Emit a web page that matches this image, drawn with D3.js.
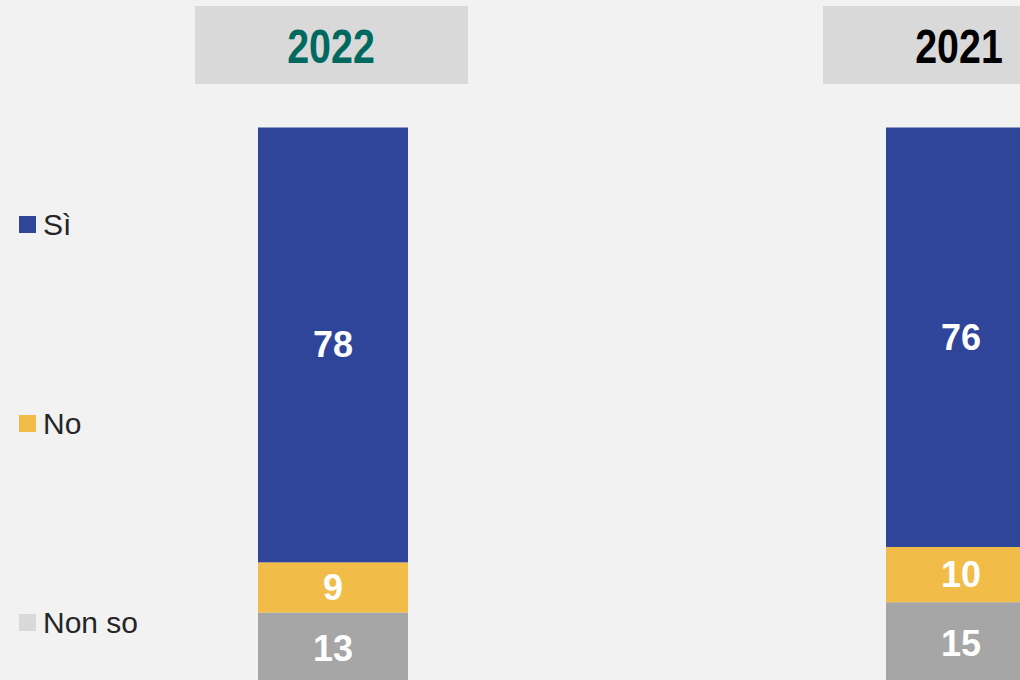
<!DOCTYPE html>
<html>
<head>
<meta charset="utf-8">
<script src="https://cdn.jsdelivr.net/npm/d3@7"></script>
<style>
  html, body { margin: 0; padding: 0; background: #f2f2f2; overflow: hidden; }
  svg { display: block; }
</style>
</head>
<body>
<div id="chart"></div>
<script>
// data
const years = ["2022", "2021"];
const answers = ["Sì", "No", "Non so"];
const si = [78, 76];
const no = [9, 10];
const nonSo = [13, 15];

const W = 1020, H = 680;
const barColors = { "Sì": "#2f4599", "No": "#f1bd48", "Non so": "#a6a6a6" };
const legendColors = { "Sì": "#2f4599", "No": "#f1bd48", "Non so": "#d9d9d9" };
const titleColors = { "2022": "#00695f", "2021": "#000000" };

const svg = d3.select("#chart").append("svg")
    .attr("width", W)
    .attr("height", H);

svg.append("rect")
    .attr("width", W).attr("height", H)
    .attr("fill", "#f2f2f2");

// x: bar centres, y: share of 100% (bar bottoms sit just below the frame)
const x = d3.scalePoint().domain(years).range([333, 961]);
const y = d3.scaleLinear().domain([0, 1]).range([685, 127.5]);
const barW = 150, boxW = 273;

const table = years.map((yr, i) => ({ year: yr, "Sì": si[i], "No": no[i], "Non so": nonSo[i] }));
// rounded labels can add up to 101, so each bar is scaled to full height
const stack = d3.stack()
    .keys(answers.slice().reverse())
    .offset(d3.stackOffsetExpand);
const series = stack(table);

// year header boxes
const head = svg.selectAll(".head")
    .data(years)
    .enter().append("g")
    .attr("class", "head");

head.append("rect")
    .attr("x", d => x(d) - 138)
    .attr("y", 6)
    .attr("width", boxW)
    .attr("height", 78)
    .attr("fill", "#d9d9d9");

// no narrow face installed, so squeeze the bold one
head.append("text")
    .attr("transform", d => "translate(" + (x(d) - 2) + ",46) scale(0.82,1)")
    .attr("text-anchor", "middle")
    .attr("dominant-baseline", "central")
    .style("font-family", "'Liberation Sans', Arial, sans-serif")
    .style("font-weight", "bold")
    .style("font-size", "48px")
    .attr("fill", d => titleColors[d])
    .text(d => d);

// stacked bars
const layer = svg.selectAll(".layer")
    .data(series)
    .enter().append("g")
    .attr("class", "layer")
    .attr("fill", d => barColors[d.key]);

layer.selectAll("rect")
    .data(d => d)
    .enter().append("rect")
    .attr("x", d => x(d.data.year) - barW / 2)
    .attr("y", d => y(d[1]))
    .attr("width", barW)
    .attr("height", d => y(d[0]) - y(d[1]));

layer.selectAll("text")
    .data(d => d.map(p => ({ p: p, key: d.key })))
    .enter().append("text")
    .attr("x", d => x(d.p.data.year))
    .attr("y", d => (y(d.p[0]) + y(d.p[1])) / 2)
    .attr("text-anchor", "middle")
    .attr("dominant-baseline", "central")
    .style("font-family", "'Liberation Sans', Arial, sans-serif")
    .style("font-weight", "bold")
    .style("font-size", "36px")
    .attr("fill", "#ffffff")
    .text(d => d.p.data[d.key]);

// legend on the left
const ly = d3.scalePoint().domain(answers).range([224.5, 622.5]);

const leg = svg.selectAll(".legend")
    .data(answers)
    .enter().append("g")
    .attr("class", "legend")
    .attr("transform", d => "translate(0," + ly(d) + ")");

leg.append("rect")
    .attr("x", 19)
    .attr("y", -8.5)
    .attr("width", 17)
    .attr("height", 17)
    .attr("fill", d => legendColors[d]);

leg.append("text")
    .attr("x", 43)
    .attr("y", 10)
    .style("font-family", "'Liberation Sans', Arial, sans-serif")
    .style("font-size", "30px")
    .attr("fill", "#262626")
    .text(d => d);
</script>
</body>
</html>
